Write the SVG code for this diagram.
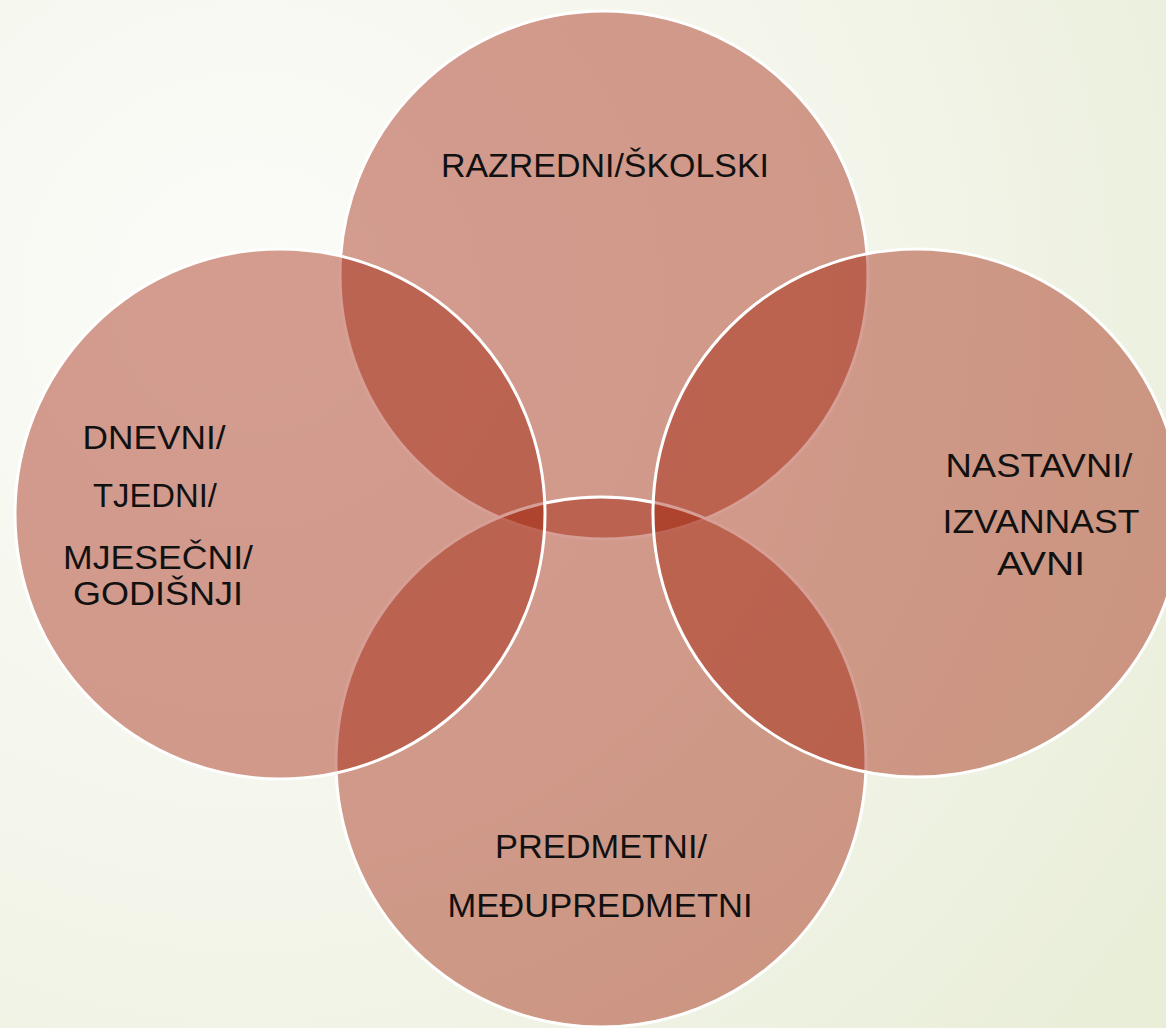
<svg xmlns="http://www.w3.org/2000/svg" width="1166" height="1028" viewBox="0 0 1166 1028">
<defs>
<radialGradient id="bg" cx="250" cy="300" r="1100" gradientUnits="userSpaceOnUse">
<stop offset="0" stop-color="#fbfcf8"/>
<stop offset="0.5" stop-color="#f4f6ec"/>
<stop offset="1" stop-color="#e9eed9"/>
</radialGradient>
<style>
.c{fill:#9d1900;fill-opacity:0.42;stroke:#ffffff;stroke-width:3}
.t{font-family:"Liberation Sans",Arial,sans-serif;font-size:34px;fill:#111111;text-anchor:middle}
</style>
</defs>
<rect x="0" y="0" width="1166" height="1028" fill="url(#bg)"/>
<g id="node-top"><circle class="c" cx="604" cy="275" r="264"/></g>
<g id="node-bottom"><circle class="c" cx="601" cy="762" r="265"/></g>
<g id="node-left"><circle class="c" cx="280" cy="514" r="265"/></g>
<g id="node-right"><circle class="c" cx="917" cy="513" r="264"/></g>
<g id="connectors"></g>
<g id="labels">
<text class="t" x="605" y="177" textLength="328" lengthAdjust="spacingAndGlyphs">RAZREDNI/ŠKOLSKI</text>
<text class="t" x="154" y="449" textLength="143" lengthAdjust="spacingAndGlyphs">DNEVNI/</text>
<text class="t" x="155" y="507" textLength="124" lengthAdjust="spacingAndGlyphs">TJEDNI/</text>
<text class="t" x="158" y="569" textLength="190" lengthAdjust="spacingAndGlyphs">MJESEČNI/</text>
<text class="t" x="158" y="605" textLength="170" lengthAdjust="spacingAndGlyphs">GODIŠNJI</text>
<text class="t" x="1039" y="477" textLength="187" lengthAdjust="spacingAndGlyphs">NASTAVNI/</text>
<text class="t" x="1041" y="533" textLength="197" lengthAdjust="spacingAndGlyphs">IZVANNAST</text>
<text class="t" x="1041" y="575" textLength="88" lengthAdjust="spacingAndGlyphs">AVNI</text>
<text class="t" x="601" y="858" textLength="212" lengthAdjust="spacingAndGlyphs">PREDMETNI/</text>
<text class="t" x="600" y="917" textLength="305" lengthAdjust="spacingAndGlyphs">MEĐUPREDMETNI</text>
</g>
</svg>
